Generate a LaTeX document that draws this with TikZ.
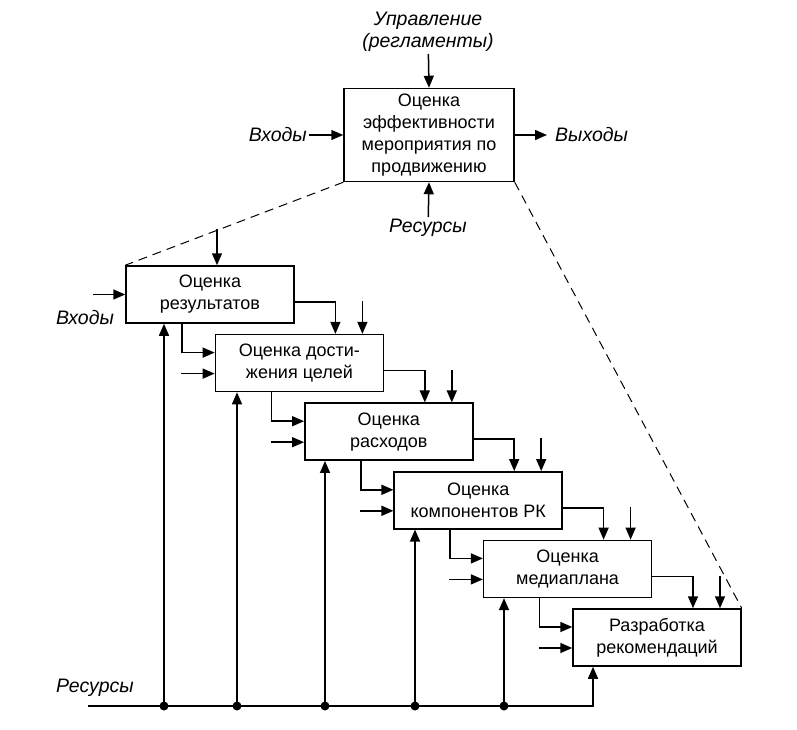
\documentclass[tikz,border=0pt]{standalone}
\usepackage{fontspec}
\setmainfont{Liberation Sans}
\usetikzlibrary{arrows.meta,positioning}
\newcommand{\diagfont}{\fontsize{18}{22}\selectfont}
\newcommand{\tagfont}{\fontsize{19.5}{22}\selectfont\itshape}
\tikzset{
  stepbox/.style={draw, line width=1.5pt, align=center, fill=white, minimum width=168pt, minimum height=57pt, inner sep=2pt, font=\diagfont},
  mainbox/.style={stepbox, minimum width=170pt, minimum height=93pt},
  arrow/.style={-{Triangle[length=12pt,width=10pt]}, line width=1.5pt},
  dashline/.style={dashed, dash pattern=on 9pt off 6pt, line width=1pt},
  tag/.style={font=\tagfont, align=center, inner sep=2pt}
}

\begin{document}
\begin{tikzpicture}[x=1pt,y=-1pt]
  \useasboundingbox (0,0) rectangle (797,730);

  % context box
  \node[mainbox] (eval) at (429,135) {Оценка\\эффективности\\мероприятия по\\продвижению};
  \node[tag] (ctrl) at (428,32) {Управление\\(регламенты)};
  \node[tag, anchor=east] (inputs) at (309,135) {Входы};
  \node[tag, anchor=west] (outputs) at (553,135) {Выходы};
  \node[tag] (res) at (428,228) {Ресурсы};

  \draw[arrow] (ctrl) -- (eval.north);
  \draw[arrow] (inputs) -- (eval);
  \draw[arrow] (eval) -- ([xshift=-6pt]outputs.west);
  \draw[arrow] (res) -- (eval.south);

  % decomposition
  \node[stepbox] (results) at (210,294.5) {Оценка\\результатов};
  \node[stepbox] (goals) at (299.4,363.1) {Оценка дости-\\жения целей};
  \node[stepbox] (costs) at (388.8,431.7) {Оценка\\расходов};
  \node[stepbox] (parts) at (478.2,500.3) {Оценка\\компонентов РК};
  \node[stepbox] (media) at (567.6,568.9) {Оценка\\медиаплана};
  \node[stepbox] (advice) at (657,637.5) {Разработка\\рекомендаций};

  \draw[dashline] (eval.south west) -- (results.north west);
  \draw[dashline] (eval.south east) -- (advice.north east);

  \node[tag] (inputs1) at (85,318) {Входы};
  \draw[arrow] ([xshift=-32pt]results.west) -- (results.west);
  \draw[arrow] ([xshift=7pt,yshift=36pt]results.north) -- ([xshift=7pt]results.north);

  \draw[arrow] ([yshift=-7.5pt]results.east) -| ([xshift=36pt]goals.north);
  \draw[arrow] ([xshift=63pt,yshift=32.6pt]goals.north) -- ([xshift=63pt]goals.north);
  \draw[arrow] ([xshift=-28pt]results.south) |- ([yshift=10.5pt]goals.west);
  \draw[arrow] ([xshift=-33.4pt,yshift=-10.5pt]goals.west) -- ([yshift=-10.5pt]goals.west);

  \draw[arrow] ([yshift=-7.5pt]goals.east) -| ([xshift=36pt]costs.north);
  \draw[arrow] ([xshift=63pt,yshift=32.6pt]costs.north) -- ([xshift=63pt]costs.north);
  \draw[arrow] ([xshift=-28pt]goals.south) |- ([yshift=10.5pt]costs.west);
  \draw[arrow] ([xshift=-33.4pt,yshift=-10.5pt]costs.west) -- ([yshift=-10.5pt]costs.west);

  \draw[arrow] ([yshift=-7.5pt]costs.east) -| ([xshift=36pt]parts.north);
  \draw[arrow] ([xshift=63pt,yshift=32.6pt]parts.north) -- ([xshift=63pt]parts.north);
  \draw[arrow] ([xshift=-28pt]costs.south) |- ([yshift=10.5pt]parts.west);
  \draw[arrow] ([xshift=-33.4pt,yshift=-10.5pt]parts.west) -- ([yshift=-10.5pt]parts.west);

  \draw[arrow] ([yshift=-7.5pt]parts.east) -| ([xshift=36pt]media.north);
  \draw[arrow] ([xshift=63pt,yshift=32.6pt]media.north) -- ([xshift=63pt]media.north);
  \draw[arrow] ([xshift=-28pt]parts.south) |- ([yshift=10.5pt]media.west);
  \draw[arrow] ([xshift=-33.4pt,yshift=-10.5pt]media.west) -- ([yshift=-10.5pt]media.west);

  \draw[arrow] ([yshift=-7.5pt]media.east) -| ([xshift=36pt]advice.north);
  \draw[arrow] ([xshift=63pt,yshift=32.6pt]advice.north) -- ([xshift=63pt]advice.north);
  \draw[arrow] ([xshift=-28pt]media.south) |- ([yshift=10.5pt]advice.west);
  \draw[arrow] ([xshift=-33.4pt,yshift=-10.5pt]advice.west) -- ([yshift=-10.5pt]advice.west);

  % resource bus
  \node[tag] (busres) at (95,688) {Ресурсы};
  \coordinate (bus) at (88,706);
  \coordinate (tap1) at (164,706);
  \coordinate (tap2) at (237,706);
  \coordinate (tap3) at (325,706);
  \coordinate (tap4) at (415,706);
  \coordinate (tap5) at (504,706);
  \coordinate (tap6) at (593,706);

  \draw[arrow] (bus) -- (tap6) -- (tap6 |- advice.south);
  \draw[arrow] (tap1) -- (tap1 |- results.south);
  \draw[arrow] (tap2) -- (tap2 |- goals.south);
  \draw[arrow] (tap3) -- (tap3 |- costs.south);
  \draw[arrow] (tap4) -- (tap4 |- parts.south);
  \draw[arrow] (tap5) -- (tap5 |- media.south);
  \fill (tap1) circle (4.5pt) (tap2) circle (4.5pt) (tap3) circle (4.5pt) (tap4) circle (4.5pt) (tap5) circle (4.5pt);
\end{tikzpicture}
\end{document}
